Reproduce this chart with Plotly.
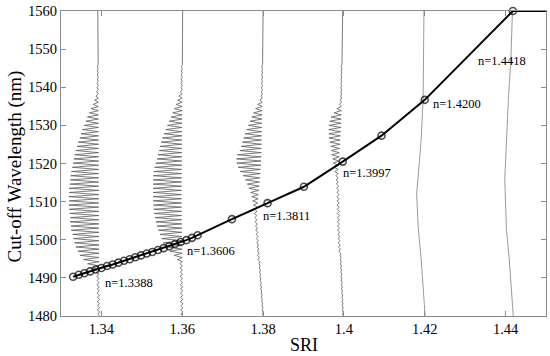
import numpy as np
import plotly.graph_objects as go

# ---------------- main curve: cut-off wavelength vs SRI ----------------
sri_values = [1.3330, 1.3344, 1.3358, 1.3372, 1.3386, 1.3400, 1.3414, 1.3428,
              1.3442, 1.3456, 1.3470, 1.3484, 1.3498, 1.3512, 1.3526, 1.3540,
              1.3554, 1.3568, 1.3582, 1.3596, 1.3610, 1.3624, 1.3638,
              1.3723, 1.3811, 1.3901, 1.3997, 1.4093, 1.4200, 1.4418, 1.4500]
cutoff_nm = [1490.3, 1490.8, 1491.2, 1491.7, 1492.2, 1492.6, 1493.1, 1493.5,
             1494.0, 1494.5, 1494.9, 1495.4, 1495.9, 1496.4, 1496.8, 1497.3,
             1497.8, 1498.3, 1498.9, 1499.4, 1499.9, 1500.5, 1501.2,
             1505.4, 1509.6, 1513.9, 1520.5, 1527.3, 1536.7, 1560.0, 1560.0]

# ---------------- annotation labels ----------------
label_text = ["n=1.3388", "n=1.3606", "n=1.3811", "n=1.3997", "n=1.4200", "n=1.4418"]
label_x = [1.3404, 1.3606, 1.3796, 1.3993, 1.4215, 1.4327]
label_y = [1488.7, 1497.1, 1506.2, 1517.6, 1535.6, 1547.0]

# ---------------- axis ticks / titles ----------------
x_tickvals = [1.34, 1.36, 1.38, 1.40, 1.42, 1.44]
x_ticktext = ["1.34", "1.36", "1.38", "1.4", "1.42", "1.44"]
y_tickvals = [1480, 1490, 1500, 1510, 1520, 1530, 1540, 1550, 1560]
y_ticktext = ["1480", "1490", "1500", "1510", "1520", "1530", "1540", "1550", "1560"]
x_title = "SRI"
y_title = "Cut-off Wavelength (nm)"

# ---------------- transmission spectra (drawn vertically) ----------------
fringe_nm = [1480.5, 1481.6, 1482.7, 1483.8, 1484.9, 1486.0, 1487.1, 1488.2, 1489.3, 1490.4,
             1491.5, 1492.6, 1493.7, 1494.8, 1495.9, 1497.0, 1498.1, 1499.2, 1500.3, 1501.4,
             1502.5, 1503.6, 1504.7, 1505.8, 1506.9, 1508.0, 1509.1, 1510.2, 1511.3, 1512.4,
             1513.5, 1514.6, 1515.7, 1516.8, 1517.9, 1519.0, 1520.1, 1521.2, 1522.3, 1523.4,
             1524.5, 1525.6, 1526.7, 1527.8, 1528.9, 1530.0, 1531.1, 1532.2, 1533.3, 1534.4,
             1535.5, 1536.6, 1537.7, 1538.8, 1539.9, 1541.0, 1542.1, 1543.2, 1544.3, 1545.4]

# fringe depths (in 1e-3 SRI units on the plot)
s1_depth = [0.5, 0.6, 0.5, 0.6, 0.5, 0.6, 0.5, 0.6, 0.5, 0.6,
            0.7, 1.4, 2.8, 3.8, 4.7, 5.2, 5.7, 6.0, 6.3, 6.5,
            6.8, 6.9, 7.1, 7.0, 7.2, 7.3, 7.4, 7.3, 7.4, 7.3,
            7.3, 7.1, 7.0, 6.9, 6.7, 6.5, 6.3, 6.1, 5.9, 5.6,
            5.3, 5.0, 4.6, 4.3, 3.9, 3.5, 3.1, 2.7, 2.2, 1.8,
            1.3, 0.9, 0.6, 0.4, 0.3, 0.3, 0.2, 0.2, 0.2, 0.2]
s2_depth = [0.5, 0.6, 0.5, 0.6, 0.5, 0.6, 0.5, 0.6, 0.5, 0.6,
            0.5, 0.6, 0.6, 1.2, 2.0, 3.0, 3.9, 4.6, 5.0, 5.4,
            5.8, 6.1, 6.4, 6.6, 6.8, 6.9, 6.9, 7.0, 7.0, 7.0,
            7.0, 7.0, 7.0, 7.0, 6.9, 6.7, 6.4, 6.1, 5.9, 5.6,
            5.4, 5.1, 4.8, 4.4, 4.0, 3.6, 3.2, 2.7, 2.3, 1.9,
            1.5, 1.1, 0.8, 0.5, 0.3, 0.3, 0.3, 0.3, 0.3, 0.3]
s3_depth = [0.2, 0.2, 0.2, 0.2, 0.2, 0.2, 0.2, 0.2, 0.2, 0.2,
            0.2, 0.2, 0.2, 0.4, 0.4, 0.4, 0.4, 0.4, 0.4, 0.4,
            0.4, 0.4, 0.4, 0.4, 0.6, 0.8, 1.0, 1.3, 1.6, 2.0,
            2.5, 3.0, 3.5, 4.2, 5.0, 5.6, 6.0, 6.1, 5.9, 5.3,
            5.0, 4.7, 4.4, 4.1, 3.7, 3.3, 2.9, 2.5, 2.1, 1.6,
            1.1, 0.6, 0.3, 0.2, 0.2, 0.2, 0.2, 0.2, 0.2, 0.2]
s4_depth = [0.2, 0.2, 0.2, 0.2, 0.2, 0.2, 0.2, 0.2, 0.2, 0.2,
            0.2, 0.2, 0.2, 0.2, 0.2, 0.5, 0.5, 0.5, 0.5, 0.5,
            0.5, 0.5, 0.5, 0.5, 0.5, 0.5, 0.5, 0.5, 0.5, 0.5,
            0.5, 0.5, 0.5, 0.5, 0.8, 1.0, 1.3, 1.5, 1.8, 2.0,
            2.2, 2.5, 2.8, 2.9, 3.0, 3.0, 2.8, 2.5, 1.8, 1.1,
            0.5, 0.3, 0.2, 0.2, 0.2, 0.2, 0.2, 0.2, 0.2, 0.2]

# spectrum baselines: (wavelength, SRI position)
s1_base_nm = [1560, 1545, 1520, 1492, 1480]
s1_base_sri = [1.3391, 1.3392, 1.3393, 1.3394, 1.3396]
s2_base_nm = [1560, 1540, 1510, 1495, 1480]
s2_base_sri = [1.3601, 1.3600, 1.3598, 1.3600, 1.3602]
s3_base_nm = [1560, 1537, 1520, 1506, 1480]
s3_base_sri = [1.3800, 1.3798, 1.3795, 1.3784, 1.3801]
s4_base_nm = [1560, 1537, 1530, 1517, 1512, 1503, 1495, 1480]
s4_base_sri = [1.3997, 1.3994, 1.3993, 1.3985, 1.3988, 1.3989, 1.3993, 1.3999]
s5_base_nm = [1560, 1537, 1526, 1516, 1512, 1503, 1495, 1486, 1480]
s5_base_sri = [1.4198, 1.4196, 1.4191, 1.4182, 1.4180, 1.4184, 1.4191, 1.4197, 1.4201]
s6_base_nm = [1560, 1547, 1537, 1526, 1516, 1503, 1495, 1486, 1480]
s6_base_sri = [1.4417, 1.4413, 1.4407, 1.4402, 1.4398, 1.4402, 1.4409, 1.4415, 1.4419]


def spectrum_path(base_nm, base_sri, dip_nm=None, dip_depth=None):
    bn = np.array(base_nm, dtype=float)[::-1]
    bs = np.array(base_sri, dtype=float)[::-1]
    if dip_nm is None:
        return list(base_sri), list(base_nm)
    half = 0.55
    dn = np.array(dip_nm)[::-1]
    dd = np.array(dip_depth)[::-1]
    xs, ys = [], []
    top = dn[0] + half
    for w, s in zip(base_nm, base_sri):
        if w > top:
            xs.append(s); ys.append(w)
    for w, d in zip(dn, dd):
        xs.append(float(np.interp(w + half, bn, bs))); ys.append(w + half)
        xs.append(float(np.interp(w, bn, bs)) - d / 1000.0); ys.append(w)
    bottom = dn[-1] - half
    xs.append(float(np.interp(bottom, bn, bs))); ys.append(bottom)
    for w, s in zip(base_nm, base_sri):
        if w < bottom:
            xs.append(s); ys.append(w)
    return xs, ys


spectra = [
    spectrum_path(s1_base_nm, s1_base_sri, fringe_nm, s1_depth),
    spectrum_path(s2_base_nm, s2_base_sri, fringe_nm, s2_depth),
    spectrum_path(s3_base_nm, s3_base_sri, fringe_nm, s3_depth),
    spectrum_path(s4_base_nm, s4_base_sri, fringe_nm, s4_depth),
    spectrum_path(s5_base_nm, s5_base_sri),
    spectrum_path(s6_base_nm, s6_base_sri),
]

fig = go.Figure()
for i, (xs, ys) in enumerate(spectra):
    fig.add_trace(go.Scatter(x=xs, y=ys, mode="lines",
                             line=dict(color="#5a5a5a" if i < 4 else "#707070",
                                       width=0.8 if i < 4 else 0.7),
                             hoverinfo="skip", showlegend=False))

marker_sizes = [7] * (len(sri_values) - 1) + [0]
fig.add_trace(go.Scatter(
    x=sri_values, y=cutoff_nm, mode="lines+markers",
    line=dict(color="black", width=2),
    marker=dict(symbol="circle-open", size=marker_sizes, color="black",
                line=dict(width=1.6, color="black")),
    cliponaxis=False, showlegend=False))

for t, x, y in zip(label_text, label_x, label_y):
    fig.add_annotation(x=x, y=y, text=t, showarrow=False, xanchor="left",
                       yanchor="middle",
                       font=dict(family="Liberation Serif", size=12.5, color="black"))

# axis titles as paper-anchored annotations
fig.add_annotation(xref="paper", yref="paper", x=0.5, y=0, yshift=-29,
                   text=x_title, showarrow=False, xanchor="center", yanchor="middle",
                   font=dict(family="Liberation Serif", size=18, color="black"))
fig.add_annotation(xref="paper", yref="paper", x=0, y=0.5, xshift=-47, yshift=-3,
                   text=y_title, showarrow=False, textangle=-90,
                   xanchor="center", yanchor="middle",
                   font=dict(family="Liberation Serif", size=19, color="black"))

axis_common = dict(showgrid=False, zeroline=False, showline=True, linecolor="#8c8c8c",
                   linewidth=1, mirror="ticks", ticks="inside", ticklen=5,
                   tickcolor="#8c8c8c", tickwidth=1, automargin=False,
                   tickfont=dict(family="Liberation Serif", size=14.5, color="black"))

fig.update_layout(
    width=550, height=356,
    margin=dict(l=61, r=4, t=11, b=40),
    paper_bgcolor="white", plot_bgcolor="white",
    showlegend=False,
    xaxis=dict(range=[1.33, 1.45], tickvals=x_tickvals, ticktext=x_ticktext,
               **axis_common),
    yaxis=dict(range=[1480, 1560], tickvals=y_tickvals, ticktext=y_ticktext,
               **axis_common),
)

fig.write_html("out.html", config={"displayModeBar": False},
               post_script="document.body.style.margin='0';document.body.style.overflow='hidden';")
